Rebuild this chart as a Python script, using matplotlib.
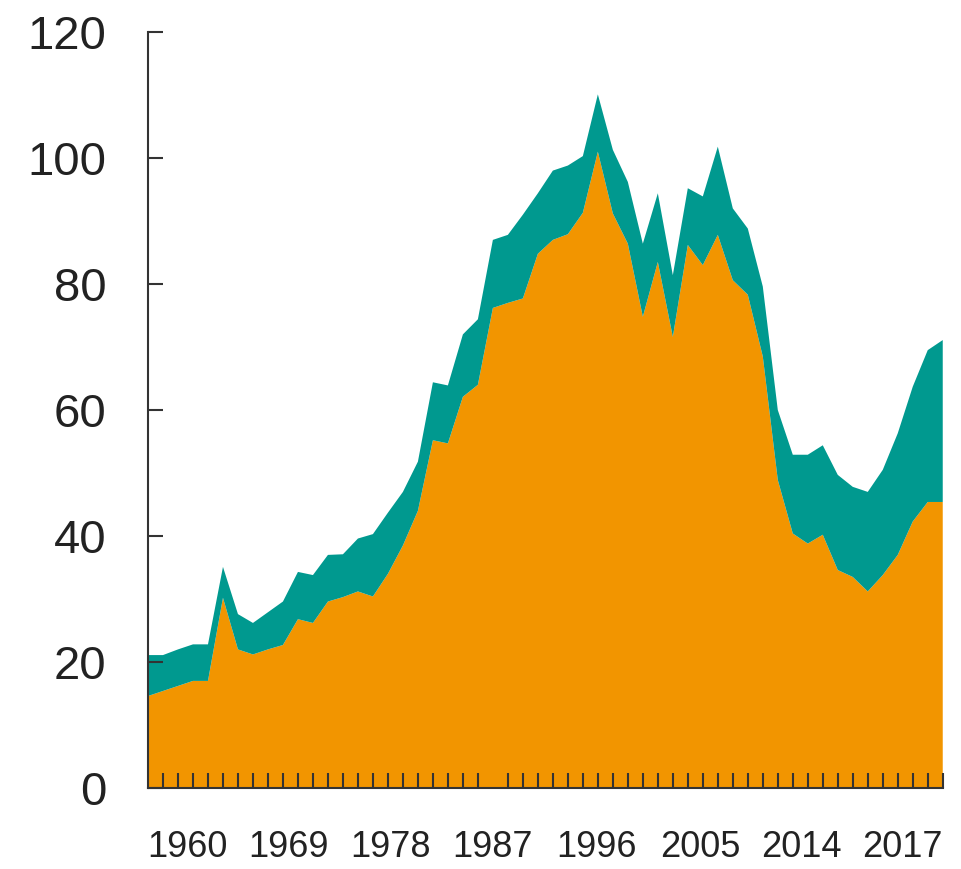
import matplotlib
matplotlib.use("Agg")
import matplotlib.pyplot as plt
import numpy as np

plt.rcParams['font.family'] = ['Liberation Sans', 'DejaVu Sans']

# Orange (lower) series and total height (orange + teal), per category
orange = [14.6, 15.4, 16.2, 17.0, 17.0, 30.2, 22.0, 21.2, 22.0, 22.7,
          26.8, 26.2, 29.6, 30.3, 31.2, 30.4, 34.0, 38.5, 44.0, 55.2,
          54.7, 62.1, 64.0, 76.2, 77.0, 77.7, 84.8, 87.0, 87.9, 91.3,
          101.0, 91.2, 86.4, 74.8, 83.5, 71.6, 86.2, 83.0, 87.8, 80.6,
          78.3, 68.5, 48.9, 40.4, 38.8, 40.2, 34.6, 33.5, 31.2, 33.8,
          37.0, 42.3, 45.4, 45.4]
total = [21.1, 21.1, 22.0, 22.8, 22.8, 35.1, 27.6, 26.2, 27.9, 29.6,
         34.3, 33.8, 37.0, 37.1, 39.6, 40.3, 43.7, 47.0, 51.8, 64.4,
         63.9, 72.0, 74.4, 87.0, 87.8, 91.0, 94.4, 98.0, 98.8, 100.3,
         110.1, 101.3, 96.2, 86.4, 94.4, 81.4, 95.2, 93.9, 101.8, 92.0,
         88.8, 79.6, 60.0, 52.9, 52.9, 54.4, 49.7, 47.8, 47.0, 50.5,
         56.3, 63.7, 69.5, 71.1]
teal = [t - o for t, o in zip(total, orange)]

x_labels = ['1960', '1969', '1978', '1987', '1996', '2005', '2014', '2017']
x_label_pos = [2.6, 9.4, 16.2, 23.0, 29.9, 36.8, 43.6, 50.3]
y_ticks = [0, 20, 40, 60, 80, 100, 120]

fig = plt.figure(figsize=(9.61, 8.69), dpi=100)
ax = fig.add_axes([0.154, 0.0932, 0.827, 0.870])

x = np.arange(len(orange))
ax.stackplot(x, orange, teal, colors=['#F29500', '#00998F'], linewidth=0)

ax.set_xlim(0, len(orange) - 1)
ax.set_ylim(0, 120)

for s in ['top', 'right']:
    ax.spines[s].set_visible(False)
for s in ['left', 'bottom']:
    ax.spines[s].set_color('#333333')
    ax.spines[s].set_linewidth(1.5)
    ax.spines[s].set_zorder(5)

ax.set_yticks(y_ticks)
ax.set_yticklabels([str(v) for v in y_ticks])
ax.tick_params(axis='y', direction='in', length=11, width=1.5, color='#333333',
               labelsize=34, pad=30, labelcolor='#222222')

# minor ticks at every category, labels at chosen positions
ax.set_xticks(x[1:], minor=True)
ax.set_xticks(x_label_pos)
ax.set_xticklabels(x_labels)
ax.tick_params(axis='x', which='major', length=0, labelsize=26, pad=30,
               labelcolor='#222222')
ax.tick_params(axis='x', which='minor', direction='in', length=11, width=1.5,
               color='#333333')
for t in ax.xaxis.get_minorticklines():
    t.set_zorder(6)

fig.savefig('out.png', dpi=100)
